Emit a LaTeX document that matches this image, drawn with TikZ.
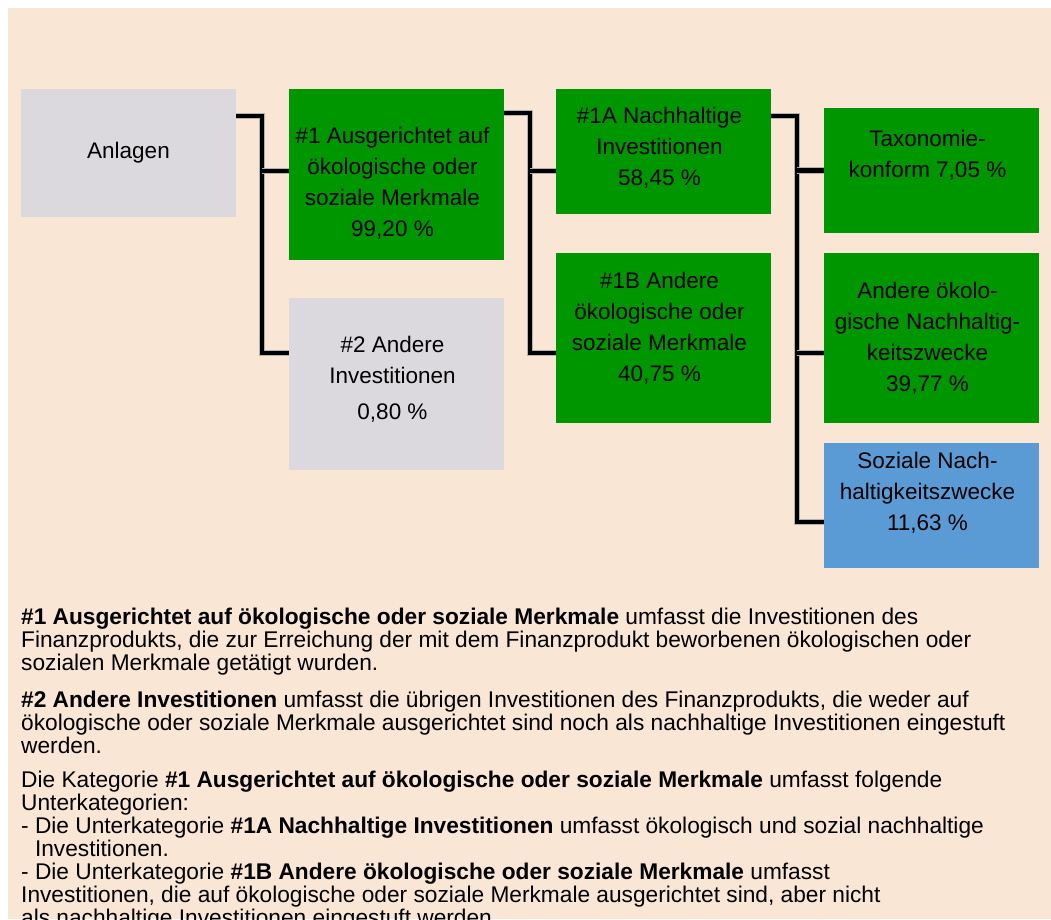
\documentclass[tikz,border=0pt]{standalone}
\usepackage{fontspec}
\setmainfont{Liberation Sans}
\definecolor{beige}{HTML}{FAE6D5}
\definecolor{boxgray}{HTML}{DBD9DE}
\definecolor{boxgreen}{HTML}{009600}
\definecolor{boxblue}{HTML}{5B9BD5}
\tikzset{
  box/.style={minimum width=215pt,inner sep=0pt},
  graybox/.style={box,fill=boxgray},
  greenbox/.style={box,fill=boxgreen},
  bluebox/.style={box,fill=boxblue},
  txt/.style={align=center,inner sep=0pt,xshift=-4pt,font=\fontsize{22.5}{31}\selectfont},
  para/.style={align=left,anchor=north west,inner sep=0pt,font=\fontsize{22.7}{23}\selectfont},
  conn/.style={line width=4.5pt,preaction={draw=black!30,line width=6.5pt}}
}
\begin{document}
\begin{tikzpicture}[x=1pt,y=-1pt,line join=miter]
	\clip (0,0) rectangle (1051,919);
	\fill[white] (0,0) rectangle (1051,919);
	\fill[beige] (8,8) rectangle (1051,919);
	\node[graybox,minimum height=128pt] (anl) at (128.5,153) {};
	\node[greenbox,minimum height=171pt] (n1) at (396.5,174.5) {};
	\node[graybox,minimum height=172pt] (n2) at (396.5,384) {};
	\node[greenbox,minimum height=125pt] (n1a) at (663.5,151.5) {};
	\node[greenbox,minimum height=170pt] (n1b) at (663.5,338) {};
	\node[greenbox,minimum height=125pt] (tax) at (931.5,170.5) {};
	\node[greenbox,minimum height=170pt] (oek) at (931.5,338) {};
	\node[bluebox,minimum height=125pt] (soz) at (931.5,505.5) {};
	\node[txt,xshift=4pt] (anlT) at (anl.center) {Anlagen};
	\node[txt] (n1T) at ([yshift=-8.5pt]n1.center) {\#1 Ausgerichtet auf\\ökologische oder\\soziale Merkmale\\99,20 \%};
	\node[txt] (n2T) at ([yshift=5pt]n2.center) {\#2 Andere\\Investitionen\\[5pt]0,80 \%};
	\node[txt] (n1aT) at ([yshift=3.5pt]n1a.center) {\#1A Nachhaltige\\Investitionen\\58,45 \%};
	\node[txt] (n1bT) at ([yshift=9.5pt]n1b.center) {\#1B Andere\\ökologische oder\\soziale Merkmale\\40,75 \%};
	\node[txt] (taxT) at ([yshift=15pt]tax.center) {Taxonomie-\\konform 7,05 \%};
	\node[txt] (oekT) at ([yshift=0pt]oek.center) {Andere ökolo-\\gische Nachhaltig-\\keitszwecke\\39,77 \%};
	\node[txt] (sozT) at ([yshift=13pt]soz.center) {Soziale Nach-\\haltigkeitszwecke\\11,63 \%};
	\coordinate (s1) at ([xshift=26pt,yshift=-27pt]anl.north east);
	\coordinate (s2) at ([xshift=26pt,yshift=-24pt]n1.north east);
	\coordinate (s3) at ([xshift=26pt,yshift=-27pt]n1a.north east);
	\coordinate (b1) at ([yshift=3.5pt]n1.west);
	\coordinate (b1a) at ([yshift=-19.5pt]n1a.west);
	\coordinate (boek) at ([yshift=-15pt]oek.west);
	\draw[conn] ([yshift=-27pt]anl.north east) -- (s1) |- ([yshift=31pt]n2.west);
	\draw[conn] ([yshift=-24pt]n1.north east) -- (s2) |- ([yshift=-15pt]n1b.west);
	\draw[conn] ([yshift=-27pt]n1a.north east) -- (s3) |- ([yshift=-16.5pt]soz.west);
	\foreach \s/\b in {s1/b1,s2/b1a,s3/tax.west,s3/boek}
		\draw[conn] (\s |- \b) -- (\b);
	\node[para] (p1) at (21,608) {\textbf{\#1 Ausgerichtet auf ökologische oder soziale Merkmale} umfasst die Investitionen des\\Finanzprodukts, die zur Erreichung der mit dem Finanzprodukt beworbenen ökologischen oder\\sozialen Merkmale getätigt wurden.};
	\node[para] (p2) at (21,691) {\textbf{\#2 Andere Investitionen} umfasst die übrigen Investitionen des Finanzprodukts, die weder auf\\ökologische oder soziale Merkmale ausgerichtet sind noch als nachhaltige Investitionen eingestuft\\werden.};
	\node[para] (p3) at (21,771) {Die Kategorie \textbf{\#1 Ausgerichtet auf ökologische oder soziale Merkmale} umfasst folgende\\Unterkategorien:\\- Die Unterkategorie \textbf{\#1A Nachhaltige Investitionen} umfasst ökologisch und sozial nachhaltige\\\hphantom{- }Investitionen.\\- Die Unterkategorie \textbf{\#1B Andere ökologische oder soziale Merkmale} umfasst\\Investitionen, die auf ökologische oder soziale Merkmale ausgerichtet sind, aber nicht\\als nachhaltige Investitionen eingestuft werden.};
\end{tikzpicture}
\end{document}
